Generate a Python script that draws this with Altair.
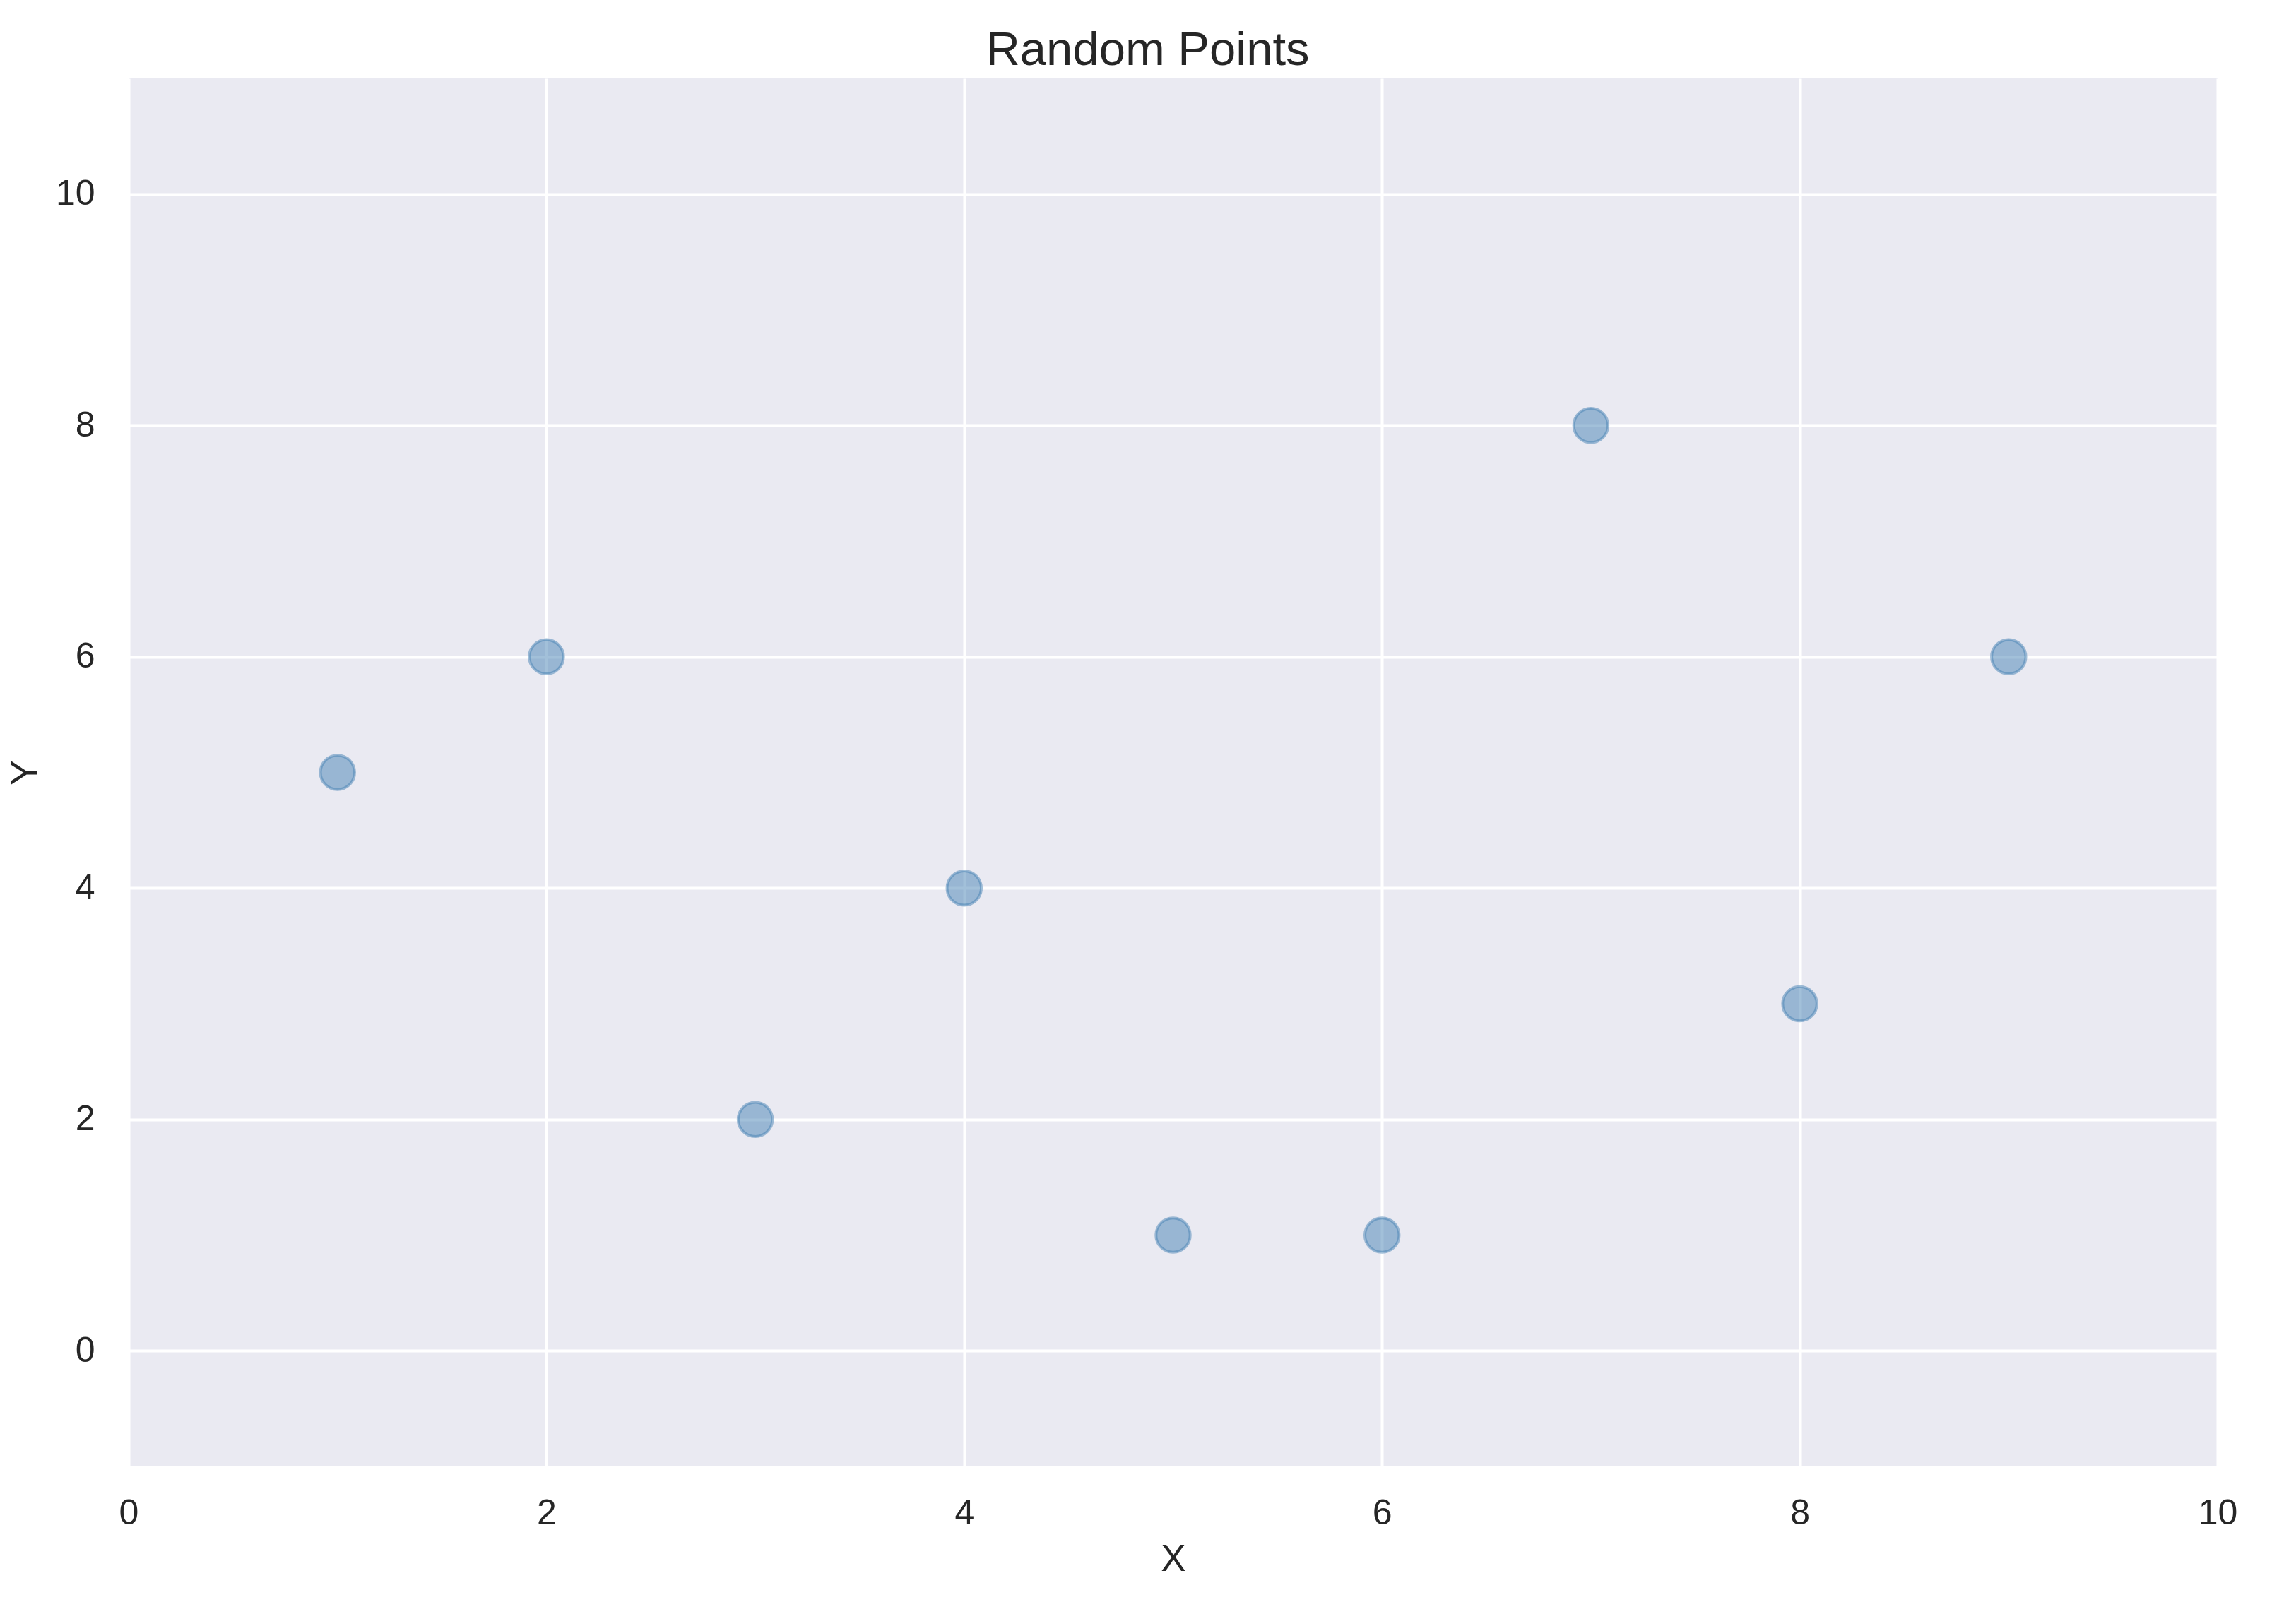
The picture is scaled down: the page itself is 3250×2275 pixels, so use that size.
import altair as alt
import pandas as pd

x_vals = [1, 2, 3, 4, 5, 6, 7, 8, 9]
y_vals = [5, 6, 2, 4, 1, 1, 8, 3, 6]
x_ticks = [0, 2, 4, 6, 8, 10]
y_ticks = [0, 2, 4, 6, 8, 10]

df = pd.DataFrame({"X": x_vals, "Y": y_vals})

FONT = "Liberation Sans"
TXT = "#262626"

W = 2957
H = 1965

chart = alt.Chart(df).mark_point(
    filled=False,
    shape="circle",
    size=2350,
    fill="steelblue",
    fillOpacity=0.5,
    stroke="steelblue",
    strokeOpacity=0.5,
    strokeWidth=4,
    opacity=1,
).encode(
    x=alt.X("X:Q", scale=alt.Scale(domain=[0, 10], nice=False, zero=False),
            axis=alt.Axis(values=x_ticks, title="X", grid=True, ticks=False, tickSize=0,
                          domain=False, labelFontSize=50, labelFont=FONT, labelColor=TXT,
                          labelPadding=81, labelBaseline="alphabetic", labelFlush=False,
                          titleFont=FONT, titleFontSize=53, titleFontWeight="normal",
                          titleColor=TXT, titleX=W / 2, titleY=147,
                          titleBaseline="alphabetic", titleAlign="center")),
    y=alt.Y("Y:Q", scale=alt.Scale(domain=[-1, 11], nice=False, zero=False),
            axis=alt.Axis(values=y_ticks, title="Y", grid=True, ticks=False, tickSize=0,
                          domain=False, labelFontSize=50, labelFont=FONT, labelColor=TXT,
                          labelPadding=48, labelFlush=False,
                          titleFont=FONT, titleFontSize=53, titleFontWeight="normal",
                          titleColor=TXT, titleX=-130, titleY=H / 2, titleAngle=270,
                          titleBaseline="alphabetic", titleAlign="center")),
).properties(
    width=W,
    height=H,
    title=alt.TitleParams("Random Points", font=FONT, fontSize=67, fontWeight="normal",
                          color=TXT, anchor="middle", baseline="alphabetic", offset=16,
                          dx=-36, dy=64),
    autosize=alt.AutoSizeParams(type="none"),
    padding={"left": 174, "top": 103, "right": 100, "bottom": 180},
).configure(
    background="white"
).configure_view(
    fill="#EAEAF2", stroke=None
).configure_axis(
    gridColor="white", gridWidth=4, gridOpacity=1
)

chart.save("out.html", embed_options={"renderer": "svg", "actions": False})
